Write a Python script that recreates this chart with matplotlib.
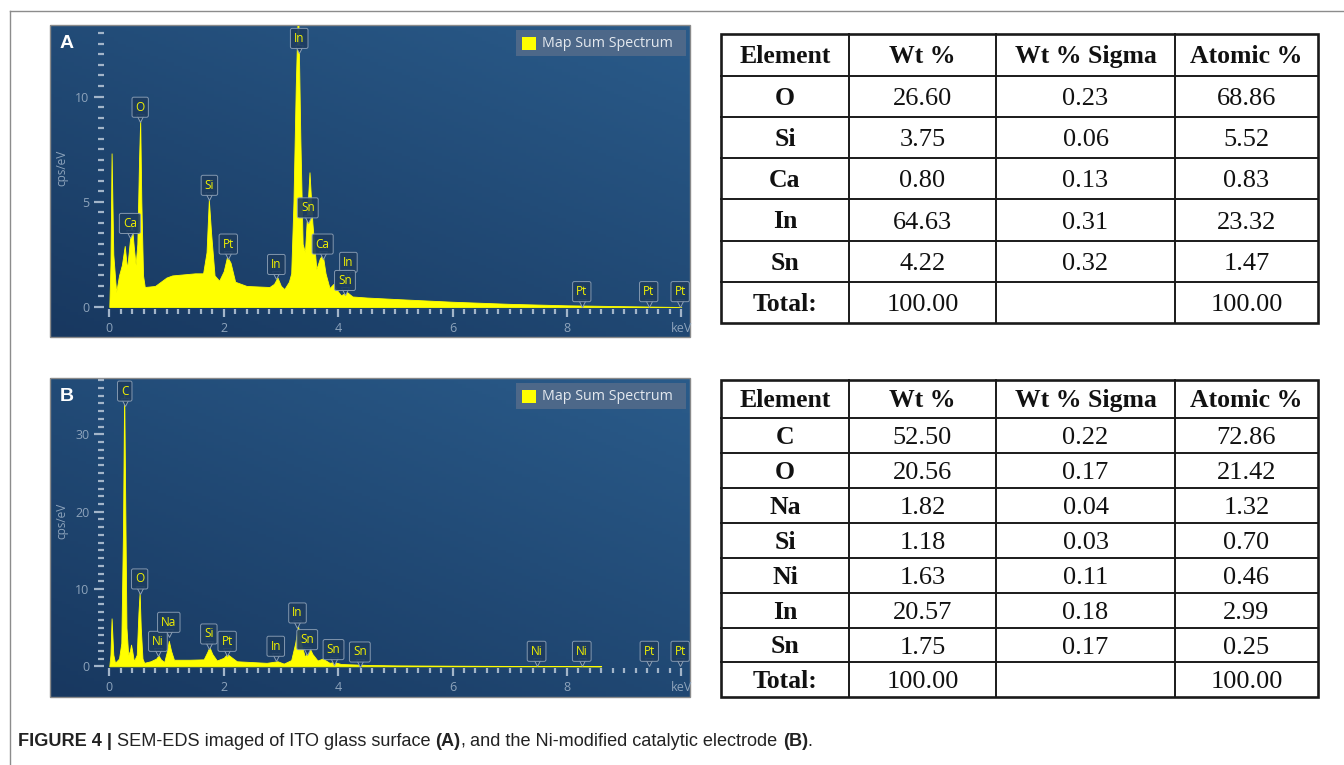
import numpy as np
import matplotlib
matplotlib.use("Agg")
import matplotlib.pyplot as plt
import matplotlib.transforms as mtransforms
from matplotlib.colors import LinearSegmentedColormap
from matplotlib.patches import Rectangle
from matplotlib.ticker import MultipleLocator, FixedLocator

# spectrum A (ITO glass): keV, cps/eV
energy_a = [0.00, 0.02, 0.04, 0.07, 0.12, 0.17, 0.22, 0.27, 0.31, 0.34, 0.39, 0.43, 0.46, 0.49,
            0.52, 0.54, 0.56, 0.59, 0.62, 0.80, 1.00, 1.10, 1.30, 1.50, 1.64, 1.70, 1.74, 1.78,
            1.84, 1.92, 2.00, 2.06, 2.12, 2.20, 2.40, 2.80, 2.88, 2.94, 3.00, 3.06, 3.14, 3.18,
            3.22, 3.26, 3.30, 3.34, 3.38, 3.42, 3.46, 3.50, 3.55, 3.62, 3.68, 3.73, 3.78, 3.85,
            3.92, 3.98, 4.05, 4.15, 4.25, 4.50, 5.00, 6.00, 7.00, 8.00, 9.00, 10.00]
counts_a = [0.0, 2.0, 7.3, 2.5, 0.7, 1.5, 2.0, 2.9, 1.8, 2.6, 4.0, 2.8, 2.0, 3.0,
            7.0, 8.9, 5.0, 1.5, 0.95, 1.0, 1.4, 1.5, 1.55, 1.6, 1.6, 2.6, 5.1, 3.5,
            1.5, 1.25, 1.7, 2.4, 2.1, 1.2, 1.0, 0.95, 1.1, 1.4, 1.0, 0.85, 1.2, 1.6,
            5.0, 10.5, 14.5, 8.0, 3.0, 2.6, 4.5, 6.4, 4.0, 1.8, 2.3, 2.5, 1.6, 0.9,
            1.1, 0.8, 0.55, 0.72, 0.5, 0.45, 0.38, 0.25, 0.15, 0.08, 0.04, 0.0]

# spectrum B (Ni-modified electrode)
energy_b = [0.00, 0.02, 0.04, 0.07, 0.10, 0.17, 0.21, 0.24, 0.26, 0.28, 0.30, 0.33, 0.36, 0.38,
            0.40, 0.43, 0.48, 0.51, 0.53, 0.55, 0.58, 0.61, 0.72, 0.82, 0.86, 0.90, 0.96, 1.01,
            1.04, 1.08, 1.13, 1.40, 1.65, 1.71, 1.75, 1.80, 1.88, 2.00, 2.06, 2.13, 2.23, 2.75,
            2.94, 3.05, 3.18, 3.25, 3.30, 3.35, 3.42, 3.47, 3.50, 3.55, 3.64, 3.73, 3.85, 3.93,
            4.05, 4.50, 5.00, 6.00, 7.00, 8.00, 8.60]
counts_b = [0.0, 1.5, 6.2, 1.5, 0.45, 1.0, 3.0, 18.0, 36.0, 20.0, 5.0, 1.5, 2.0, 2.8,
            2.0, 0.65, 1.5, 7.0, 9.5, 5.0, 1.0, 0.45, 0.65, 1.0, 1.4, 0.9, 0.55, 2.0,
            3.3, 2.0, 0.85, 0.85, 0.9, 1.8, 2.5, 1.6, 0.75, 1.1, 1.6, 1.2, 0.65, 0.45,
            0.65, 0.35, 0.8, 3.0, 5.2, 3.0, 1.2, 2.0, 2.4, 1.6, 0.75, 1.0, 0.45, 0.55,
            0.3, 0.18, 0.12, 0.08, 0.05, 0.03, 0.0]

# peak label boxes: element, keV, cps/eV (box centre)
labels_a = ["In", "O", "Ca", "Si", "Pt", "In", "Sn", "Ca", "In", "Sn", "Pt", "Pt", "Pt"]
label_x_a = [3.32, 0.54, 0.36, 1.75, 2.08, 2.92, 3.47, 3.73, 4.18, 4.12, 8.26, 9.43, 9.98]
label_y_a = [12.76, 9.49, 3.97, 5.78, 2.99, 2.02, 4.71, 2.99, 2.12, 1.26, 0.73, 0.73, 0.73]

labels_b = ["C", "O", "Ni", "Na", "Si", "Pt", "In", "In", "Sn", "Sn", "Sn", "Ni", "Ni", "Pt", "Pt"]
label_x_b = [0.27, 0.53, 0.85, 1.04, 1.74, 2.06, 2.91, 3.29, 3.46, 3.92, 4.38, 7.47, 8.26, 9.44, 9.98]
label_y_b = [35.6, 11.3, 3.23, 5.69, 4.18, 3.23, 2.59, 6.90, 3.45, 2.16, 1.85, 1.94, 1.94, 1.94, 1.94]

# tables
headers = ["Element", "Wt %", "Wt % Sigma", "Atomic %"]
elements_a = ["O", "Si", "Ca", "In", "Sn", "Total:"]
wt_a = ["26.60", "3.75", "0.80", "64.63", "4.22", "100.00"]
sigma_a = ["0.23", "0.06", "0.13", "0.31", "0.32", ""]
atomic_a = ["68.86", "5.52", "0.83", "23.32", "1.47", "100.00"]

elements_b = ["C", "O", "Na", "Si", "Ni", "In", "Sn", "Total:"]
wt_b = ["52.50", "20.56", "1.82", "1.18", "1.63", "20.57", "1.75", "100.00"]
sigma_b = ["0.22", "0.17", "0.04", "0.03", "0.11", "0.18", "0.17", ""]
atomic_b = ["72.86", "21.42", "1.32", "0.70", "0.46", "2.99", "0.25", "100.00"]

W, H = 1344, 765
fig = plt.figure(figsize=(W / 100, H / 100), dpi=100)
fig.patch.set_facecolor("white")

# full-figure pixel canvas for backgrounds, tables, caption
canvas = fig.add_axes([0, 0, 1, 1], zorder=0)
canvas.set_axis_off()

tick_col = "#a3b5c9"
lab_col = "#8da3bb"
blue = LinearSegmentedColormap.from_list("eds", ["#183860", "#2a5b8a"])
gy, gx = np.mgrid[0:1:100j, 0:1:160j]
grad = 0.55 * (1 - gy) + 0.45 * gx


def rect(x0, y0, x1, y1):
    return [x0 / W, 1 - y1 / H, (x1 - x0) / W, (y1 - y0) / H]


def spectrum_panel(box, zero_px, px_per_unit, energy, counts, names, lx, ly,
                   ymajor, yminor, letter):
    bx0, by0, bx1, by1 = box
    canvas.imshow(grad, cmap=blue, extent=(bx0, bx1, by1, by0), aspect="auto",
                  origin="upper", zorder=0)
    canvas.add_patch(Rectangle((bx0, by0), bx1 - bx0, by1 - by0, fill=False,
                               ec="#8a8a8a", lw=1.0, zorder=1))
    # legend
    canvas.add_patch(Rectangle((516, by0 + 5), 170, 26, fc="#4d6889", ec="none", zorder=2))
    canvas.add_patch(Rectangle((522, by0 + 12), 14, 13, fc="#ffff00", ec="none", zorder=3))
    canvas.text(542, by0 + 18, "Map Sum Spectrum", color="#e4e9ef", fontsize=10.3,
                family="Open Sans", va="center", zorder=3)
    canvas.text(67, by0 + 18, letter, color="white", fontsize=14, weight="bold",
                family="Liberation Sans", ha="center", va="center", zorder=3)
    canvas.text(62, by0 + 143, "cps/eV", color=lab_col, fontsize=8.5, rotation=90,
                family="Open Sans", ha="center", va="center", zorder=3)

    x0_px = 109.3
    kev_px = 57.2
    ax_l, ax_r, ax_t, ax_b = 103.5, bx1, by0 + 1, zero_px + 2
    ax = fig.add_axes(rect(ax_l, ax_t, ax_r, ax_b), zorder=2)
    ax.patch.set_alpha(0)
    ax.set_xlim((ax_l - x0_px) / kev_px, (ax_r - x0_px) / kev_px)
    ax.set_ylim((zero_px - ax_b) / px_per_unit, (zero_px - ax_t) / px_per_unit)
    for s in ax.spines.values():
        s.set_visible(False)

    ax.fill_between(energy, counts, 0, color="#ffff00", lw=0.6, ec="#ffff00", zorder=2)

    ax.xaxis.set_major_locator(FixedLocator([0, 2, 4, 6, 8, 10]))
    ax.set_xticklabels(["0", "2", "4", "6", "8", "keV"])
    ax.xaxis.set_minor_locator(MultipleLocator(0.2))
    ax.yaxis.set_major_locator(MultipleLocator(ymajor))
    ax.yaxis.set_minor_locator(MultipleLocator(yminor))
    ax.tick_params(which="both", colors=tick_col, labelcolor=lab_col, labelsize=9,
                   direction="out")
    ax.tick_params(axis="x", which="major", length=6, width=1.6, pad=3)
    ax.tick_params(axis="x", which="minor", length=3.5, width=1.6)
    ax.tick_params(axis="y", which="major", length=7.5, width=1.6, pad=2.5)
    ax.tick_params(axis="y", which="minor", length=4.3, width=1.6)
    for t in ax.get_xticklabels() + ax.get_yticklabels():
        t.set_family("Open Sans")

    notch = mtransforms.offset_copy(ax.transData, fig=fig, x=0, y=-11, units="dots")
    for name, x, y in zip(names, lx, ly):
        ax.plot(x, y, marker="v", ms=5.5, mfc="#1d3c60", mec="#8c9fb5", mew=0.7,
                transform=notch, zorder=4, clip_on=False)
        ax.text(x, y, name, color="#f2f200", fontsize=8.5, family="Open Sans",
                ha="center", va="center", zorder=5, clip_on=False,
                bbox=dict(boxstyle="round,pad=0.3,rounding_size=0.15", fc="#1d3c60",
                          ec="#8c9fb5", lw=0.7, alpha=0.92))
    return ax


spectrum_panel((50, 25, 690, 337), 307.0, 21.05, energy_a, counts_a, labels_a,
               label_x_a, label_y_a, 5, 0.5, "A")
spectrum_panel((50, 378, 690, 697), 666.3, 7.73, energy_b, counts_b, labels_b,
               label_x_b, label_y_b, 10, 1, "B")

head_pt = 18.5
body_pt = 19


def draw_table(rows_y, elements, wt, sigma, atomic):
    cols_x = [721, 849, 996, 1175, 1318]
    x0, x1 = cols_x[0], cols_x[-1]
    y0, y1 = rows_y[0], rows_y[-1]
    for y in rows_y[1:-1]:
        canvas.plot([x0, x1], [y, y], color="#1a1a1a", lw=1.4, zorder=3)
    for x in cols_x[1:-1]:
        canvas.plot([x, x], [y0, y1], color="#1a1a1a", lw=1.4, zorder=3)
    canvas.add_patch(Rectangle((x0, y0), x1 - x0, y1 - y0, fill=False, ec="#1a1a1a",
                               lw=1.9, zorder=3))
    centers = [(cols_x[i] + cols_x[i + 1]) / 2 for i in range(4)]
    # baseline offset so cap height sits centred in the cell
    hoff = 0.33 * head_pt * 100 / 72
    boff = 0.33 * body_pt * 100 / 72
    hy = (rows_y[0] + rows_y[1]) / 2
    for cx, h in zip(centers, headers):
        canvas.text(cx, hy + hoff, h, fontsize=head_pt, weight="bold",
                    family="Liberation Serif", ha="center", va="baseline",
                    color="#111111", zorder=4)
    for i in range(len(elements)):
        cy = (rows_y[i + 1] + rows_y[i + 2]) / 2
        canvas.text(centers[0], cy + hoff, elements[i], fontsize=head_pt, weight="bold",
                    family="Liberation Serif", ha="center", va="baseline",
                    color="#111111", zorder=4)
        for cx, v in zip(centers[1:], [wt[i], sigma[i], atomic[i]]):
            canvas.text(cx, cy + boff, v, fontsize=body_pt, family="Liberation Serif",
                        ha="center", va="baseline", color="#111111", zorder=4)


draw_table([34, 76, 117, 158, 199, 241, 282, 323], elements_a, wt_a, sigma_a, atomic_a)
draw_table([380, 418, 453, 488, 523, 558, 593, 628, 662, 697], elements_b, wt_b, sigma_b,
           atomic_b)

# outer frame lines (top and left)
canvas.plot([10, W], [11, 11], color="#8c8c8c", lw=1.0, zorder=3)
canvas.plot([10, 10], [11, H], color="#8c8c8c", lw=1.0, zorder=3)

canvas.set_xlim(0, W)
canvas.set_ylim(H, 0)

# caption, drawn piece by piece
renderer = fig.canvas.get_renderer()
pieces = [("FIGURE 4 |", "bold", 5), ("SEM-EDS imaged of ITO glass surface", "normal", 5),
          ("(A)", "bold", 0), (",", "normal", 5),
          ("and the Ni-modified catalytic electrode", "normal", 5),
          ("(B)", "bold", 0), (".", "normal", 0)]
cx = 18
for s, w, gap in pieces:
    t = canvas.text(cx, 741, s, fontsize=13.1, weight=w, family="Liberation Sans",
                    color="#222222", va="center", ha="left", zorder=4)
    bb = t.get_window_extent(renderer)
    cx += bb.width + gap

fig.savefig("out.png", dpi=100)
plt.close(fig)
